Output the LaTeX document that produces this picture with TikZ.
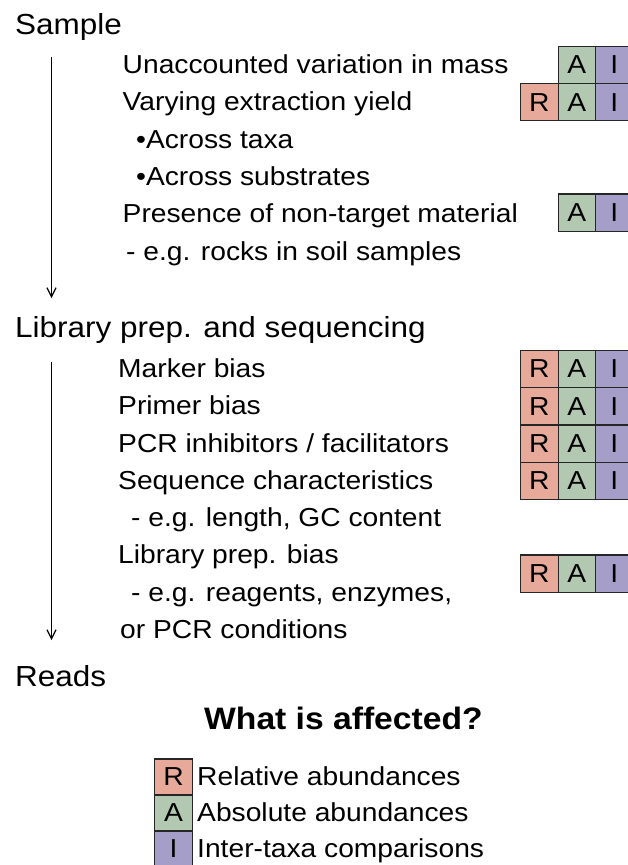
\documentclass[tikz,border=0pt]{standalone}
\usepackage{fontspec}
\setmainfont{Liberation Sans}[FakeStretch=1.085]
\usetikzlibrary{arrows.meta}
\definecolor{cR}{HTML}{E6A99A}
\definecolor{cA}{HTML}{B3C8B1}
\definecolor{cI}{HTML}{A49EC9}
\tikzset{
  ttl/.style={anchor=base west, inner sep=0pt, font=\fontsize{29}{32}\selectfont},
  itm/.style={anchor=base west, inner sep=0pt, font=\fontsize{26}{30}\selectfont},
  cell/.style={draw=black!85, line width=1.2pt, minimum width=37.5pt, minimum height=37.2pt,
    inner sep=0pt, anchor=west, font=\fontsize{26}{30}\selectfont},
  rcell/.style={cell, fill=cR},
  acell/.style={cell, fill=cA},
  icell/.style={cell, fill=cI},
  flow/.style={line width=1.2pt, -{Straight Barb[length=9pt,width=9pt]}}
}
\begin{document}
\begin{tikzpicture}[x=1pt,y=-1pt]
\clip (0,0) rectangle (628,865);
\fill[white] (0,0) rectangle (628,865);

% Section 1
\node[ttl] (sample) at (15,34) {Sample};
\node[itm] (t1) at (122.5,73.5) {Unaccounted variation in mass};
\node[itm] (t2) at (122.5,110.5) {Varying extraction yield};
\node[itm] (t3) at (136,148) {\textbullet Across taxa};
\node[itm] (t4) at (136,185.5) {\textbullet Across substrates};
\node[itm] (t5) at (122.5,222.5) {Presence of non-target material};
\node[itm] (t6) at (126,260) {- e.g. rocks in soil samples};

\node[acell] (a1) at (557.5,65) {A};
\node[icell] (i1) at (595,65) {I};
\node[rcell] (r2) at (520,102.2) {R};
\node[acell] (a2) at (557.5,102.2) {A};
\node[icell] (i2) at (595,102.2) {I};
\node[acell] (a3) at (557.5,212.5) {A};
\node[icell] (i3) at (595,212.5) {I};

\coordinate (f1s) at (51.5,57);
\coordinate (f1e) at (51.5,298);
\draw[flow] (f1s) -- (f1e);

% Section 2
\node[ttl] (lib) at (15,337) {Library prep. and sequencing};
\node[itm] (u1) at (118,377.5) {Marker bias};
\node[itm] (u2) at (118,414.8) {Primer bias};
\node[itm] (u3) at (118,452) {PCR inhibitors / facilitators};
\node[itm] (u4) at (118,489.3) {Sequence characteristics};
\node[itm] (u5) at (131,526.5) {- e.g. length, GC content};
\node[itm] (u6) at (118,563.8) {Library prep. bias};
\node[itm] (u7) at (131,601) {- e.g. reagents, enzymes,};
\node[itm] (u8) at (120,638.3) {or PCR conditions};

\foreach \n/\yy in {4/369, 5/406.3, 6/443.5, 7/480.8, 8/573.5}{
  \node[rcell] (r\n) at (520,\yy) {R};
  \node[acell] (a\n) at (557.5,\yy) {A};
  \node[icell] (i\n) at (595,\yy) {I};
}

\coordinate (f2s) at (51.5,362);
\coordinate (f2e) at (51.5,640);
\draw[flow] (f2s) -- (f2e);

% Reads
\node[ttl] (reads) at (15,686) {Reads};

% Legend
\node[anchor=base west, inner sep=0pt, font=\fontsize{31}{34}\selectfont\bfseries] (what) at (204,729) {What is affected?};
\node[rcell, minimum width=38pt, minimum height=36pt] (lr) at (154,777) {R};
\node[acell, minimum width=38pt, minimum height=36pt] (la) at (154,813) {A};
\node[icell, minimum width=38pt, minimum height=36pt] (li) at (154,849) {I};
\node[itm] (lrt) at (197,785.5) {Relative abundances};
\node[itm] (lat) at (197,821.5) {Absolute abundances};
\node[itm] (lit) at (197,857.5) {Inter-taxa comparisons};
\end{tikzpicture}
\end{document}
